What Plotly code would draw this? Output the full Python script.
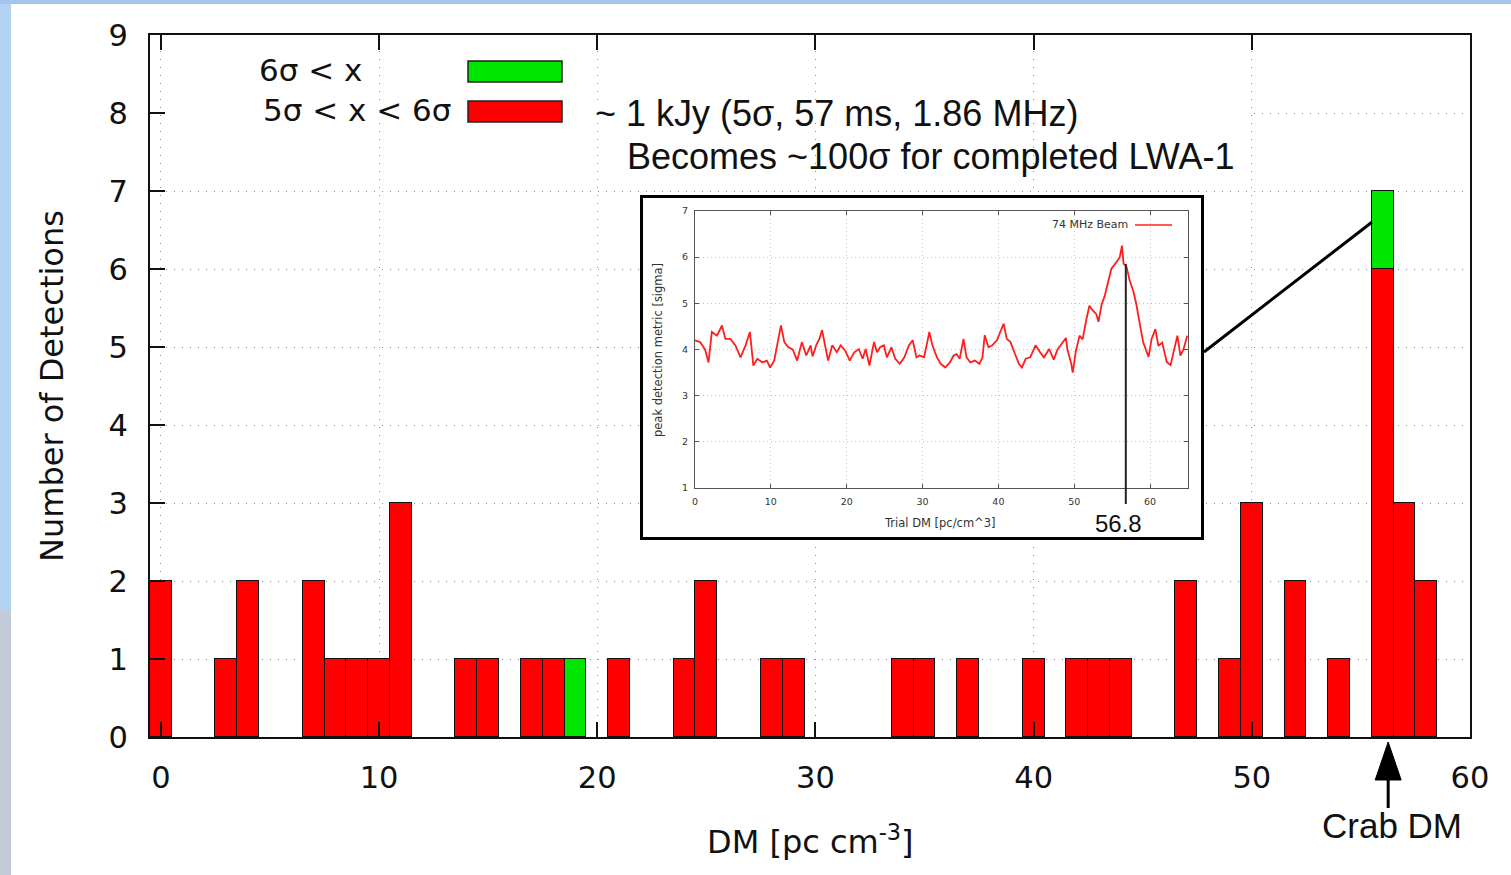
import plotly.graph_objects as go

# ---------------------------------------------------------------------------
# Single-pulse detections per trial DM bin (counts)
# ---------------------------------------------------------------------------
dm_5to6 = [0, 3, 4, 7, 8, 9, 10, 11, 14, 15, 17, 18, 21, 24, 25, 28, 29, 34, 35, 37,
           40, 42, 43, 44, 47, 49, 50, 52, 54, 56, 57, 58]
n_5to6 = [2, 1, 2, 2, 1, 1, 1, 3, 1, 1, 1, 1, 1, 1, 2, 1, 1, 1, 1, 1,
          1, 1, 1, 1, 2, 1, 3, 2, 1, 6, 3, 2]
dm_gt6 = [19, 56]
n_gt6 = [1, 1]
label_gt6 = "6σ < x"
label_5to6 = "5σ < x < 6σ"

x_ticks = [0, 10, 20, 30, 40, 50, 60]
y_ticks = [0, 1, 2, 3, 4, 5, 6, 7, 8, 9]

# Peak detection metric vs trial DM (74 MHz beam)
trial_dm = [0, 0.67, 1.33, 1.78, 2.22, 2.89, 3.56, 4.0, 4.67, 5.33, 6.0, 6.67, 7.24, 7.69,
            8.22, 8.89, 9.47, 9.91, 10.44, 10.98, 11.33, 11.78, 12.31, 12.89, 13.47, 14.09,
            14.67, 15.24, 15.5, 16.0, 16.4, 16.75, 17.1, 17.55, 18.1, 18.7, 19.2, 19.8, 20.4,
            21.0, 21.6, 22.1, 22.5, 23.0, 23.6, 24.0, 24.4, 24.9, 25.3, 25.9, 26.4, 27.0,
            27.6, 28.2, 28.7, 29.2, 29.6, 30.2, 30.9, 31.3, 31.9, 32.4, 33.0, 33.6, 34.1,
            34.5, 34.9, 35.4, 35.8, 36.3, 36.9, 37.5, 37.9, 38.2, 38.7, 39.2, 39.8, 40.2,
            40.7, 41.1, 41.6, 42.1, 42.7, 43.1, 43.6, 44.2, 44.9, 45.5, 46.0, 46.7, 47.3,
            47.8, 48.4, 48.9, 49.1, 49.6, 49.8, 50.2, 50.7, 51.1, 51.6, 52.0, 52.4, 52.9,
            53.2, 53.6, 54.0, 54.4, 54.9, 55.6, 56.0, 56.3, 56.5, 56.9, 57.3, 57.8, 58.2,
            58.7, 59.1, 59.8, 60.2, 60.7, 61.1, 61.6, 62.2, 62.7, 63.1, 63.6, 64.0, 64.4,
            64.9]
peak_sigma = [4.2, 4.16, 4.0, 3.72, 4.38, 4.3, 4.52, 4.23, 4.23, 4.09, 3.83, 4.09, 4.38, 3.65,
              3.8, 3.72, 3.76, 3.61, 3.76, 4.23, 4.52, 4.16, 4.05, 4.0, 3.76, 4.16,
              3.87, 4.09, 3.85, 4.1, 4.23, 4.42, 4.09, 3.76, 4.09, 3.94, 4.09, 3.98, 3.76,
              3.94, 4.01, 3.8, 4.01, 3.65, 4.16, 3.94, 4.05, 4.09, 3.83, 4.05, 3.8, 3.69,
              3.83, 4.09, 4.2, 3.83, 3.87, 3.83, 4.38, 4.09, 3.83, 3.69, 3.61, 3.72, 3.87,
              3.9, 3.8, 4.23, 3.83, 3.72, 3.76, 3.69, 3.83, 4.31, 4.05, 4.09, 4.2, 4.38,
              4.56, 4.23, 4.16, 3.94, 3.69, 3.61, 3.8, 3.83, 4.09, 3.94, 3.83, 4.01, 3.78,
              4.0, 4.15, 4.25, 4.0, 3.7, 3.5, 3.95, 4.3, 4.22, 4.65, 4.95, 4.85, 4.77,
              4.6, 4.97, 5.15, 5.4, 5.75, 5.9, 6.0, 6.25, 5.86, 5.79, 5.5, 5.26, 4.97,
              4.5, 4.15, 3.84, 4.23, 4.44, 4.08, 4.15, 3.73, 3.66, 3.95, 4.3, 3.87, 4.0,
              4.3]
inset_x_ticks = [0, 10, 20, 30, 40, 50, 60]
inset_y_ticks = [1, 2, 3, 4, 5, 6, 7]
crab_dm_fit = 56.8
crab_dm_fit_sigma = 5.85
crab_arrow_dm = 56.25

# ---------------------------------------------------------------------------
# Page geometry
# ---------------------------------------------------------------------------
W, H = 1511, 875
M_L, M_R, M_T, M_B = 150, 41, 35, 138
PW, PH = W - M_L - M_R, H - M_T - M_B
X_RANGE = [-0.5, 60]
Y_RANGE = [0, 9]


def px(x):
    """pixel column -> paper x"""
    return (x - M_L) / PW


def py(y):
    """pixel row -> paper y"""
    return (H - M_B - y) / PH


def dx_paper(v):
    return (v - X_RANGE[0]) / (X_RANGE[1] - X_RANGE[0])


GNU = "DejaVu Sans"
SLIDE = "Liberation Sans, Arial, sans-serif"
RED = "#ff0000"
GREEN = "#00e600"
INK = "#111111"

# inset panel geometry (paper)
BOX_X = [px(643), px(1201)]
BOX_Y = [py(537), py(198)]
IN_X = [px(695), px(1188)]
IN_Y = [py(488), py(211)]
IN_XR = [0, 65]
IN_YR = [1, 7]


def inset_y_paper(v):
    return IN_Y[0] + (v - IN_YR[0]) / (IN_YR[1] - IN_YR[0]) * (IN_Y[1] - IN_Y[0])


fig = go.Figure()

bar_line = dict(color=INK, width=1.5)
fig.add_trace(go.Bar(x=dm_5to6, y=n_5to6, name=label_5to6, width=1,
                     marker=dict(color=RED, line=bar_line)))
fig.add_trace(go.Bar(x=dm_gt6, y=n_gt6, name=label_gt6, width=1,
                     marker=dict(color=GREEN, line=bar_line)))

# empty trace that carries the framed white panel behind the inset
fig.add_trace(go.Scatter(x=[], y=[], xaxis="x2", yaxis="y2", mode="lines",
                         hoverinfo="skip", showlegend=False))

fig.add_trace(go.Scatter(x=trial_dm, y=peak_sigma, xaxis="x3", yaxis="y3", mode="lines",
                         name="74 MHz Beam", line=dict(color="#ff1e1e", width=1.8)))

grid_dash = "1px,7px"
main_axis = dict(
    showline=True, linewidth=2, linecolor=INK,
    ticks="inside", ticklen=15, tickwidth=2, tickcolor=INK,
    showgrid=True, gridcolor="#8c8c8c", gridwidth=1.3, griddash=grid_dash,
    zeroline=False, tickfont=dict(family=GNU, size=30.5, color=INK),
)

inset_axis = dict(
    showline=True, linewidth=1, linecolor="#555555", mirror="ticks",
    ticks="inside", ticklen=4, tickwidth=1, tickcolor="#555555",
    showgrid=True, gridcolor="#c4c4c4", gridwidth=1, griddash="1px,3px",
    zeroline=False, tickfont=dict(family=GNU, size=9.5, color="#333333"),
)

box_axis = dict(showline=True, linewidth=3, linecolor="#000000", mirror=True,
                ticks="", showticklabels=False, showgrid=False, zeroline=False,
                range=[0, 1], fixedrange=True)

fig.update_layout(
    width=W, height=H,
    margin=dict(l=M_L, r=M_R, t=M_T, b=M_B, pad=0),
    paper_bgcolor="#ffffff", plot_bgcolor="#ffffff",
    barmode="stack", bargap=0, showlegend=False,
    xaxis=dict(main_axis, domain=[0, 1], range=X_RANGE, tickvals=x_ticks,
               mirror="ticks", ticklabelstandoff=12),
    yaxis=dict(main_axis, domain=[0, 1], range=Y_RANGE, tickvals=y_ticks,
               mirror=True, ticklabelstandoff=14),
    xaxis2=dict(box_axis, domain=BOX_X, anchor="y2"),
    yaxis2=dict(box_axis, domain=BOX_Y, anchor="x2"),
    xaxis3=dict(inset_axis, domain=IN_X, anchor="y3", range=IN_XR, tickvals=inset_x_ticks,
                ticklabelstandoff=5),
    yaxis3=dict(inset_axis, domain=IN_Y, anchor="x3", range=IN_YR, tickvals=inset_y_ticks,
                ticklabelstandoff=4),
)

shapes = []
annotations = []

# slide background strips
shapes.append(dict(type="rect", xref="paper", yref="paper", x0=px(-5), x1=px(11),
                   y0=py(-5), y1=py(610), fillcolor="#b3d3f3", line=dict(width=0), layer="above"))
shapes.append(dict(type="rect", xref="paper", yref="paper", x0=px(-5), x1=px(11),
                   y0=py(610), y1=py(880), fillcolor="#c3cbd6", line=dict(width=0), layer="above"))
shapes.append(dict(type="rect", xref="paper", yref="paper", x0=px(-5), x1=px(1520),
                   y0=py(-5), y1=py(4), fillcolor="#a4c6ec", line=dict(width=0), layer="above"))

# opaque band behind the key and the note text
shapes.append(dict(type="rect", xref="paper", yref="paper", x0=px(166), x1=px(1250),
                   y0=py(122), y1=py(102), fillcolor="#ffffff", line=dict(width=0),
                   layer="above"))

# axis titles
annotations.append(dict(text="Number of Detections", xref="paper", yref="paper",
                        x=px(52), y=py(386), textangle=-90, showarrow=False,
                        xanchor="center", yanchor="middle",
                        font=dict(family=GNU, size=32, color=INK)))
annotations.append(dict(text="DM [pc cm<sup>-3</sup>]", xref="paper", yref="paper",
                        x=0.5, y=py(840), showarrow=False, xanchor="center", yanchor="middle",
                        font=dict(family=GNU, size=32, color=INK)))

# key
for label, color, xtxt, ytxt, ybox in [(label_gt6, GREEN, 257, 70, (61, 82)),
                                       (label_5to6, RED, 261, 110, (101, 122))]:
    annotations.append(dict(text=label, xref="paper", yref="paper", x=px(xtxt), y=py(ytxt),
                            showarrow=False, xanchor="left", yanchor="middle",
                            font=dict(family=GNU, size=31, color=INK)))
    shapes.append(dict(type="rect", xref="paper", yref="paper", x0=px(468), x1=px(562),
                       y0=py(ybox[1]), y1=py(ybox[0]), fillcolor=color,
                       line=dict(color="#222222", width=1.5), layer="above"))

# sensitivity note
annotations.append(dict(text="~ 1 kJy (5σ, 57 ms, 1.86 MHz)", xref="paper", yref="paper",
                        x=px(593), y=py(114), showarrow=False, xanchor="left", yanchor="middle",
                        font=dict(family=SLIDE, size=36, color=INK)))
annotations.append(dict(text="Becomes ~100σ for completed LWA-1", xref="paper", yref="paper",
                        x=px(625), y=py(156), showarrow=False, xanchor="left", yanchor="middle",
                        font=dict(family=SLIDE, size=36, color=INK)))

# connector from the peak bin to the inset
shapes.append(dict(type="line", xref="x", yref="y", x0=55.5, y0=6.6,
                   x1=X_RANGE[0] + (1204 - M_L) / PW * (X_RANGE[1] - X_RANGE[0]),
                   y1=(H - M_B - 352) / PH * Y_RANGE[1],
                   line=dict(color="#000000", width=3), layer="above"))

# Crab DM arrow under the axis
ax_c = dx_paper(crab_arrow_dm)
half = 13 / PW
shapes.append(dict(type="path", xref="paper", yref="paper",
                   path=f"M {ax_c} {py(742)} L {ax_c - half} {py(780)} L {ax_c + half} {py(780)} Z",
                   fillcolor="#000000", line=dict(color="#000000", width=1), layer="above"))
shapes.append(dict(type="line", xref="paper", yref="paper", x0=ax_c, x1=ax_c,
                   y0=py(778), y1=py(808), line=dict(color="#000000", width=3), layer="above"))
annotations.append(dict(text="Crab DM", xref="paper", yref="paper", x=ax_c + 4 / PW, y=py(825),
                        showarrow=False, xanchor="center", yanchor="middle",
                        font=dict(family=SLIDE, size=35, color=INK)))

# inset decorations
annotations.append(dict(text="peak detection metric [sigma]", xref="paper", yref="paper",
                        x=px(658), y=py(350), textangle=-90, showarrow=False,
                        xanchor="center", yanchor="middle",
                        font=dict(family=GNU, size=11.5, color="#333333")))
annotations.append(dict(text="Trial DM [pc/cm^3]", xref="paper", yref="paper",
                        x=px(940), y=py(523), showarrow=False, xanchor="center", yanchor="middle",
                        font=dict(family=GNU, size=11.5, color="#333333")))
annotations.append(dict(text="74 MHz Beam", xref="paper", yref="paper",
                        x=px(1130), y=py(224), showarrow=False, xanchor="right", yanchor="middle",
                        font=dict(family=GNU, size=11, color="#333333")))
shapes.append(dict(type="line", xref="paper", yref="paper", x0=px(1135), x1=px(1172),
                   y0=py(225), y1=py(225), line=dict(color="#ff1e1e", width=1.5), layer="above"))
shapes.append(dict(type="line", xref="x3", yref="paper", x0=crab_dm_fit, x1=crab_dm_fit,
                   y0=py(504), y1=inset_y_paper(crab_dm_fit_sigma),
                   line=dict(color="#222222", width=2), layer="above"))
annotations.append(dict(text=f"{crab_dm_fit}", xref="x3", yref="paper", x=crab_dm_fit,
                        y=py(523), showarrow=False, xanchor="center", yanchor="middle",
                        xshift=-7, font=dict(family=SLIDE, size=24, color=INK)))

fig.update_layout(shapes=shapes, annotations=annotations)
fig.write_html("out.html")
